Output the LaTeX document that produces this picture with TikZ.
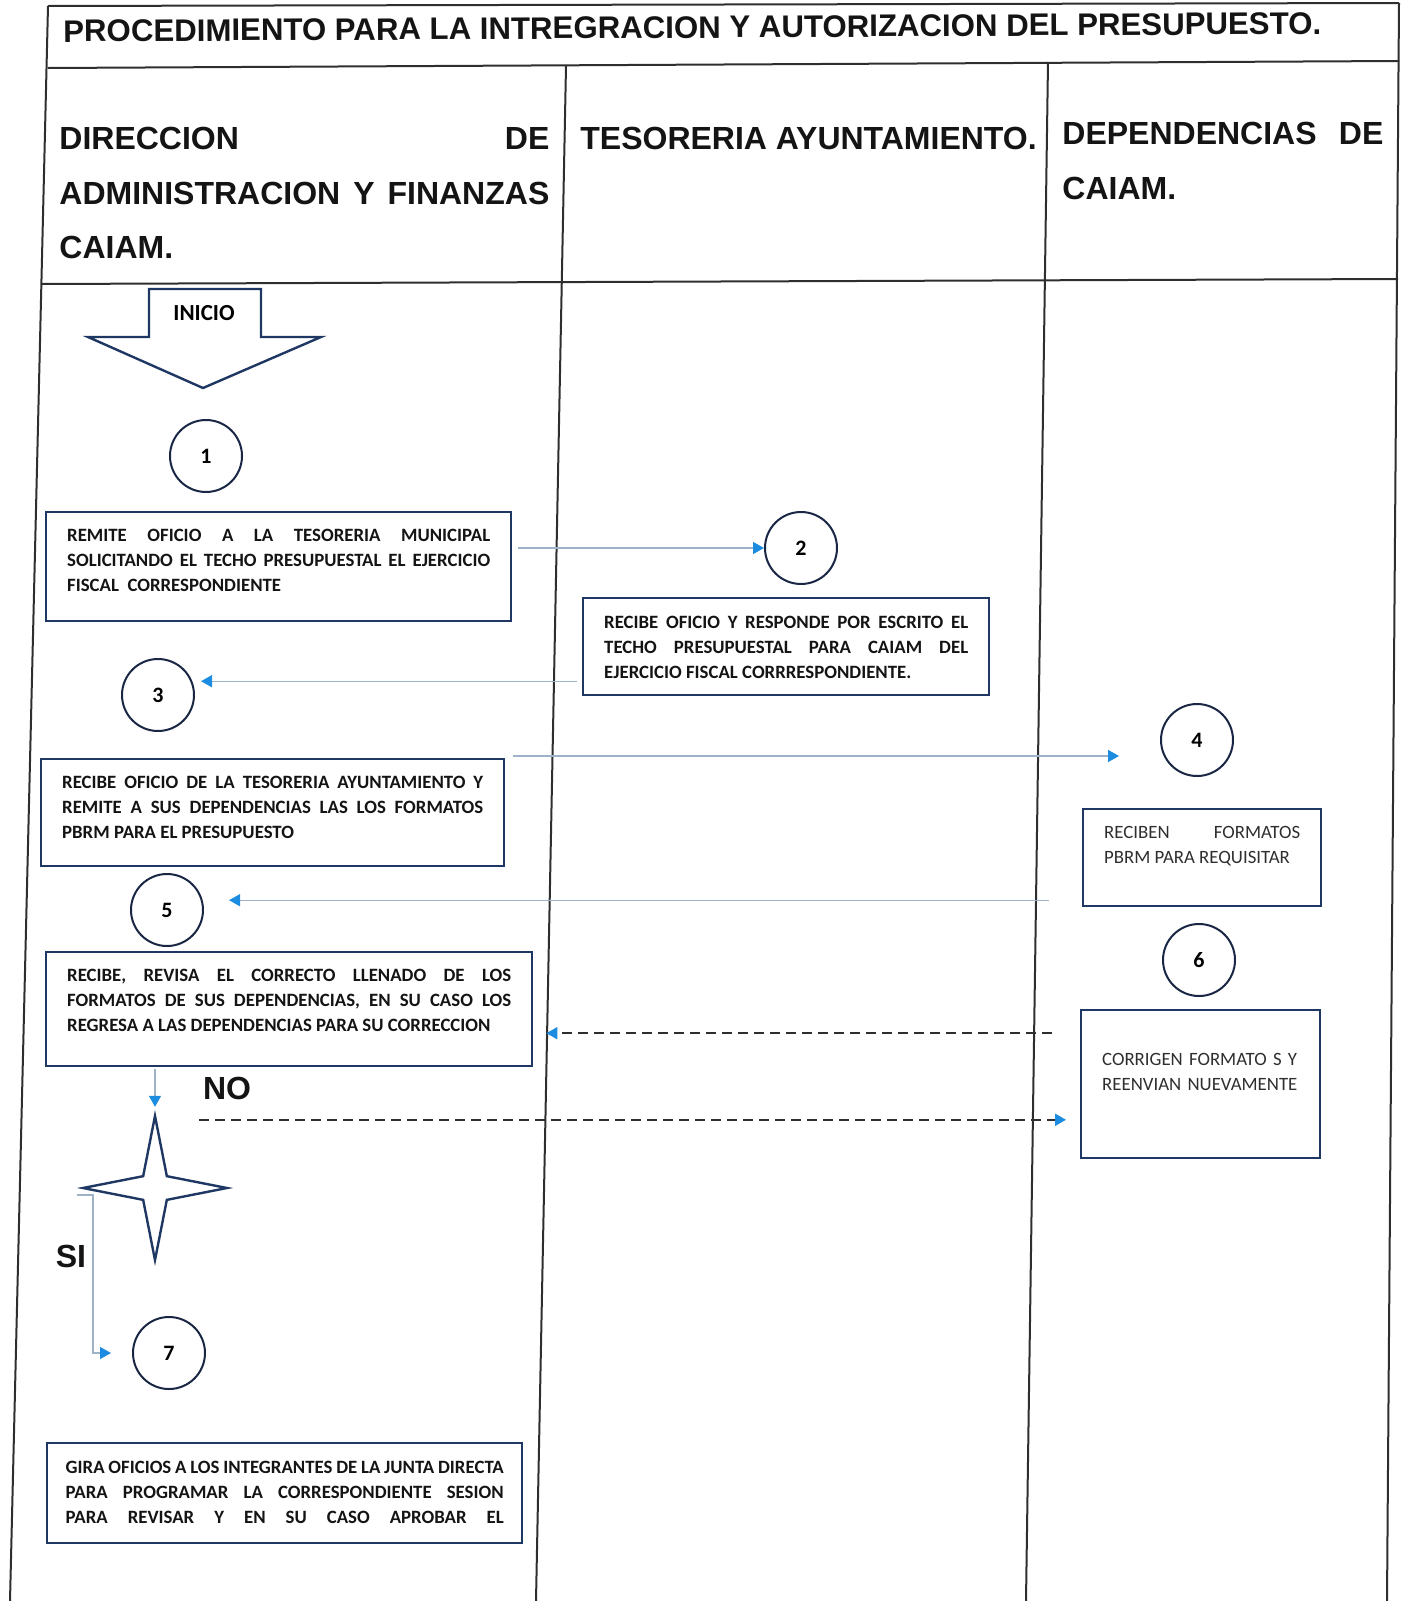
\documentclass[tikz,border=0pt]{standalone}
\usepackage{fontspec}
\setmainfont{Liberation Sans}
\newfontfamily\calibri{Carlito}
\usetikzlibrary{shapes.geometric, arrows.meta, calc}
\definecolor{azul}{HTML}{1F3763}
\definecolor{azulosc}{HTML}{1A2744}
\definecolor{linea}{HTML}{9FB3C8}
\definecolor{punta}{HTML}{1C8CE0}
\definecolor{gris}{HTML}{2E2E2E}
\definecolor{tinta}{HTML}{141414}
\tikzstyle{tabla} = [draw=gris, line width=1pt]
\tikzstyle{encabezado} = [inner sep=0pt, text=tinta, font=\bfseries\fontsize{16}{27.25}\selectfont]
\tikzstyle{arranque} = [draw=azul, line width=1.2pt, fill=white]
\tikzstyle{proceso} = [rectangle, draw=azul, line width=1.2pt, anchor=north west, inner xsep=10.5pt, inner ysep=0pt, align=justify, text=tinta, font=\calibri\bfseries\fontsize{9.4}{12.5}\selectfont]
\tikzstyle{procesogris} = [proceso, text=gris, font=\calibri\fontsize{9.4}{12.4}\selectfont]
\tikzstyle{paso} = [circle, draw=azulosc, line width=1pt, minimum size=36pt, inner sep=0pt, font=\calibri\bfseries\fontsize{11}{13}\selectfont]
\tikzstyle{decision} = [star, star points=4, star point ratio=4.3, minimum size=72pt, inner sep=0pt, draw=azul, line width=1.2pt]
\tikzstyle{flecha} = [draw=linea, line width=0.7pt, -{Triangle[length=5.5pt, width=6pt, color=punta]}]
\tikzstyle{punteada} = [draw=gris, line width=1pt, dash pattern=on 5pt off 3pt, -{Triangle[length=5.5pt, width=6pt, color=punta]}]
\tikzstyle{etiqueta} = [inner sep=0pt, text=tinta, font=\bfseries\fontsize{16}{18}\selectfont]
\begin{document}
\begin{tikzpicture}[x=0.5pt, y=-0.5pt]
      \useasboundingbox (0,0) rectangle (1402,1601);
      % tabla
      \draw [tabla] (48,6) -- (1399,3);
      \draw [tabla] (48,68) -- (1399,61);
      \draw [tabla] (41,284) -- (1398,279);
      \draw [tabla] (48,6) -- (10,1601);
      \draw [tabla] (566,66) -- (536,1601);
      \draw [tabla] (1048,62) -- (1026,1601);
      \draw [tabla] (1399,3) -- (1387,1601);
      \node (titulo) [inner sep=0pt, anchor=base west, rotate=0.36, text=tinta, font=\bfseries\fontsize{15.6}{18}\selectfont] at (63,42) {PROCEDIMIENTO PARA LA INTREGRACION Y AUTORIZACION DEL PRESUPUESTO.};
      \node (dir) [encabezado, text width=245pt, align=left, anchor=north west] at (59,127) {DIRECCION\hfill DE\\ADMINISTRACION\hfill Y\hfill FINANZAS\\CAIAM.};
      \node (teso) [encabezado, anchor=base west] at (580,149) {TESORERIA AYUNTAMIENTO.};
      \node (dep) [encabezado, text width=160.5pt, align=left, anchor=north west] at (1062,122) {DEPENDENCIAS\hfill DE\\CAIAM.};
      % inicio
      \draw [arranque] (149,289) -- (261,289) -- (261,337) -- (321,337) -- (203,388) -- (88,337) -- (149,337) -- cycle;
      \node (inicio) [inner sep=0pt, font=\calibri\bfseries\fontsize{11.5}{13}\selectfont] at (204,313) {INICIO};
      % pasos
      \node (num1) [paso] at (206,456) {1};
      \node (num2) [paso] at (801,548) {2};
      \node (num3) [paso] at (158,695) {3};
      \node (num4) [paso] at (1197,740) {4};
      \node (num5) [paso] at (167,910) {5};
      \node (num6) [paso] at (1199,960) {6};
      \node (num7) [paso] at (169,1353) {7};
      % procesos
      \node (pro1) [proceso, text width=211.5pt, text height=14.5pt, text depth=40pt] at (45,511) {REMITE OFICIO A LA TESORERIA MUNICIPAL\linebreak SOLICITANDO EL TECHO PRESUPUESTAL EL EJERCICIO\linebreak FISCAL~~CORRESPONDIENTE};
      \node (pro2) [proceso, text width=182pt, text height=15pt, text depth=33.5pt] at (582,597) {RECIBE OFICIO Y RESPONDE POR ESCRITO EL\linebreak TECHO PRESUPUESTAL PARA CAIAM DEL\linebreak EJERCICIO FISCAL CORRRESPONDIENTE.};
      \node (pro3) [proceso, text width=210.5pt, text height=14.5pt, text depth=39pt] at (40,758) {RECIBE OFICIO DE LA TESORERIA AYUNTAMIENTO Y\linebreak REMITE A SUS DEPENDENCIAS LAS LOS FORMATOS\linebreak PBRM PARA EL PRESUPUESTO};
      \node (pro4) [procesogris, text width=98pt, text height=14.5pt, text depth=34pt] at (1082,808) {RECIBEN FORMATOS\linebreak PBRM PARA REQUISITAR};
      \node (pro5) [proceso, text width=222pt, text height=14.5pt, text depth=42.5pt] at (45,951) {RECIBE, REVISA EL CORRECTO LLENADO DE LOS\linebreak FORMATOS DE SUS DEPENDENCIAS, EN SU CASO LOS\linebreak REGRESA A LAS DEPENDENCIAS PARA SU CORRECCION};
      \node (pro6) [procesogris, text width=98.5pt, align=left, text height=27.5pt, text depth=46.5pt] at (1080,1009) {CORRIGEN FORMATO S Y\\REENVIAN NUEVAMENTE};
      \node (pro7) [proceso, text width=219pt, inner xsep=9.25pt, text height=15pt, text depth=35pt] at (46,1442) {\parfillskip=0pt GIRA OFICIOS A LOS INTEGRANTES DE LA JUNTA DIRECTA\linebreak PARA PROGRAMAR LA CORRESPONDIENTE SESION\linebreak PARA REVISAR Y EN SU CASO APROBAR EL\par};
      \node (dec1) [decision] at (155,1188) {};
      \node (etqno) [etiqueta] at (227,1088) {NO};
      \node (etqsi) [etiqueta] at (71,1256) {SI};
      % conectores
      \draw [flecha] ($(pro1.east |- num2)+(6,0)$) -- (num2);
      \draw [flecha] ($(pro2.west)+(-5,34.5)$) -- ($(pro2.west -| num3.east)+(6,34.5)$);
      \draw [flecha] ($(pro3.north east)+(8,-2)$) -- ($(pro3.north east -| num4.west)+(-41,-2)$);
      \draw [flecha] ($(pro4.west)+(-33,42.5)$) -- ($(pro4.west -| num5.east)+(25,42.5)$);
      \draw [punteada] ($(pro6.west)+(-28,-51)$) -- ($(pro6.west -| pro5.east)+(13,-51)$);
      \draw [punteada] ($(dec1.north)+(44,10)$) -- ($(dec1.north -| pro6.west)+(-14,10)$);
      \draw [flecha] ($(pro5.south -| dec1)+(0,2)$) -- ($(dec1.north)+(0,-3)$);
      \draw [flecha] ($(dec1.west)+(0,7)$) -| ($(num7.west)+(-39,0)$) -- ($(num7.west)+(-21,0)$);
\end{tikzpicture}
\end{document}
